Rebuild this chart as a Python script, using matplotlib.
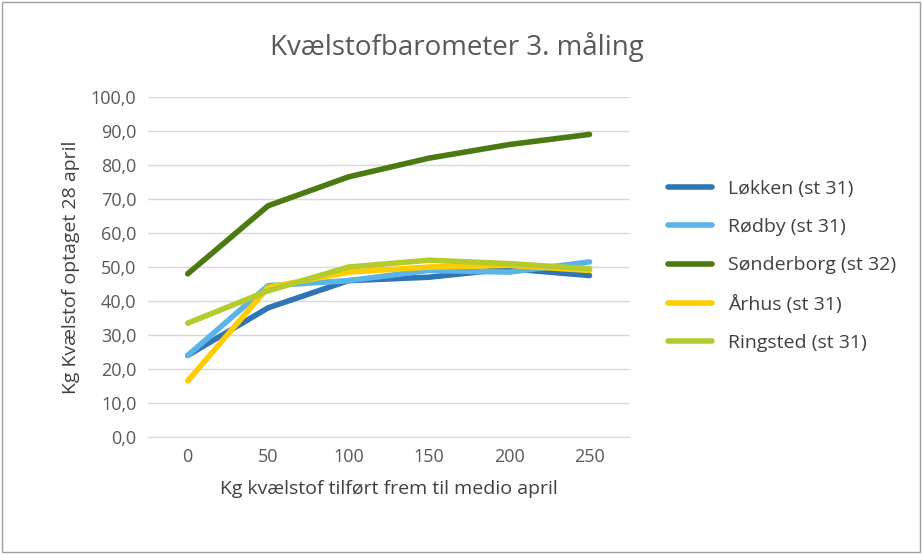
import matplotlib
matplotlib.use("Agg")
import matplotlib.pyplot as plt
from matplotlib.patches import Rectangle

categories = ["0", "50", "100", "150", "200", "250"]
series_names = ["Løkken (st 31)", "Rødby (st 31)", "Sønderborg (st 32)", "Århus (st 31)", "Ringsted (st 31)"]
lokken = [24.0, 38.0, 46.0, 47.0, 49.5, 47.5]
rodby = [24.0, 44.5, 46.0, 49.0, 48.5, 51.5]
sonderborg = [48.0, 68.0, 76.5, 82.0, 86.0, 89.0]
aarhus = [16.5, 44.0, 48.5, 50.0, 50.5, 49.0]
ringsted = [33.5, 43.0, 50.0, 52.0, 51.0, 49.5]
colors = ["#2E75B6", "#5BB4E8", "#4A7A10", "#FFCC00", "#B5CB2B"]

plt.rcParams["font.family"] = ["Open Sans", "DejaVu Sans"]
fig = plt.figure(figsize=(9.22, 5.54), dpi=100)
fig.patches.append(Rectangle((0.002, 0.003), 0.996, 0.994, transform=fig.transFigure,
                             fill=False, edgecolor="#a0a0a0", linewidth=1))
ax = fig.add_axes([0.160, 0.211, 0.523, 0.614])
x = range(len(categories))
for name, vals, c in zip(series_names, [lokken, rodby, sonderborg, aarhus, ringsted], colors):
    ax.plot(x, vals, color=c, linewidth=4, label=name, solid_capstyle="round")

ax.set_xlim(-0.5, len(categories) - 0.5)
ax.set_ylim(0, 100)
ax.set_yticks(range(0, 101, 10))
ax.set_yticklabels([f"{v},0" for v in range(0, 101, 10)])
ax.set_xticks(list(x))
ax.set_xticklabels(categories)
ax.tick_params(length=0, labelsize=13, colors="#595959", pad=8)
ax.grid(axis="y", color="#d9d9d9", linewidth=1)
ax.set_axisbelow(True)
for s in ["top", "right", "left"]:
    ax.spines[s].set_visible(False)
ax.spines["bottom"].set_color("#d9d9d9")
ax.set_xlabel("Kg kvælstof tilført frem til medio april", fontsize=14, color="#404040", labelpad=10)
ax.set_ylabel("Kg Kvælstof optaget 28 april", fontsize=14, color="#404040", labelpad=8)
fig.text(0.495, 0.915, "Kvælstofbarometer 3. måling", ha="center", va="center", fontsize=20, color="#595959")
fig.legend(loc="center left", bbox_to_anchor=(0.705, 0.52), frameon=False, fontsize=14,
           labelspacing=1.05, handlelength=2.3, labelcolor="#404040")
fig.savefig("out.png", dpi=100)
